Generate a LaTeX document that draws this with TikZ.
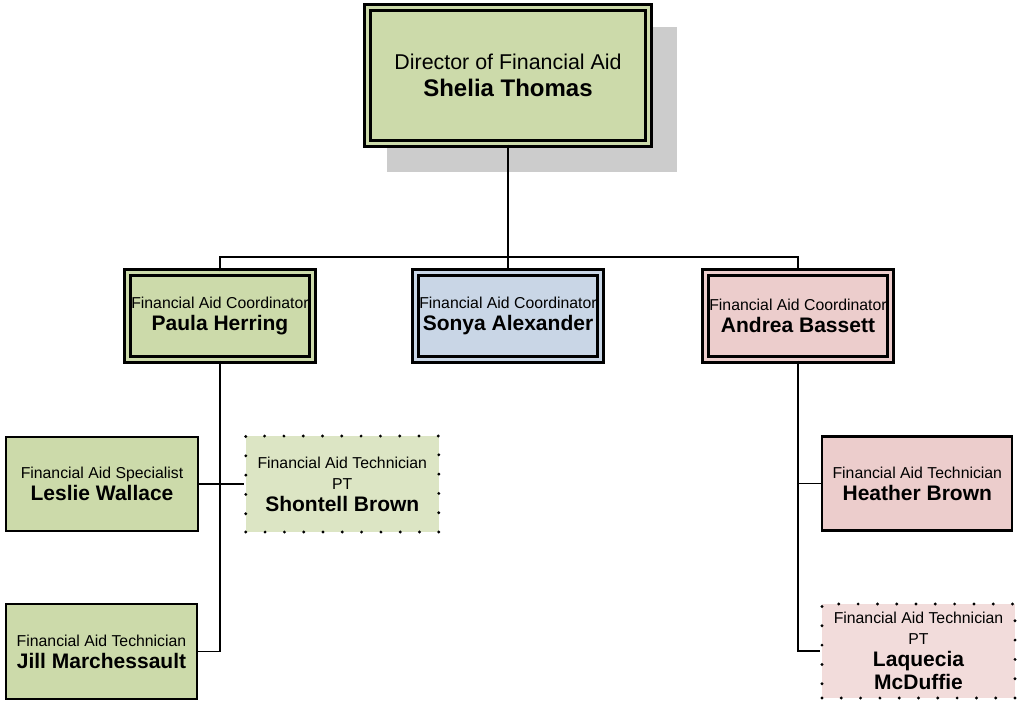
\documentclass[tikz,border=0pt]{standalone}
\usepackage{fontspec}
\setmainfont{Liberation Sans}
\definecolor{gfill}{HTML}{CCDAAA}
\definecolor{bfill}{HTML}{C9D6E6}
\definecolor{pfill}{HTML}{ECCDCC}
\definecolor{lgfill}{HTML}{DCE5C4}
\definecolor{lpfill}{HTML}{F2DCDB}
\definecolor{shadowgray}{HTML}{CCCCCC}
\newcommand\roletxt[1]{{\fontsize{15.8}{20}\selectfont #1}}
\newcommand\nametxt[1]{{\fontsize{21}{24}\selectfont\bfseries #1}}
\tikzset{
  conn/.style={draw=black, line width=1.9pt},
  dblbox/.style={draw=black, fill=#1, double=#1, line width=2.4pt, double distance=3.3pt,
    inner sep=0pt, align=center, text=black, font=\fontsize{16}{22}\selectfont},
  sglbox/.style={draw=black, fill=#1, line width=2.1pt, inner sep=0pt, align=center,
    text=black, font=\fontsize{16}{22}\selectfont},
  dotbox/.style={draw=black, fill=#1, line width=3.2pt, dash pattern=on 0pt off 19.3pt,
    line cap=round, inner sep=0pt, align=center, text=black, font=\fontsize{16}{21}\selectfont}
}
\begin{document}
\begin{tikzpicture}[x=1pt, y=-1pt]
\useasboundingbox (0,0) rectangle (1017,702);
% shadow of top box
\node[fill=shadowgray, minimum width=290pt, minimum height=145pt, inner sep=0pt] (dirshadow) at (532,99.5) {};
% top box
\node[dblbox=gfill, minimum width=281pt, minimum height=136pt, font=\fontsize{21.4}{27}\selectfont] (dir) at (508,75.5)
  {Director of Financial Aid\\{\fontsize{24}{27}\selectfont\bfseries Shelia Thomas}};
% coordinators
\node[dblbox=gfill, minimum width=185pt, minimum height=87pt] (paula) at (220,316)
  {\roletxt{Financial Aid Coordinator}\\\nametxt{Paula Herring}};
\node[dblbox=bfill, minimum width=185pt, minimum height=87pt] (sonya) at (508,316)
  {\roletxt{Financial Aid Coordinator}\\\nametxt{Sonya Alexander}};
\node[dblbox=pfill, minimum width=185pt, minimum height=87pt] (andrea) at (798,316)
  {\roletxt{Financial Aid Coordinator}\\\nametxt{Andrea Bassett}};
% staff
\node[sglbox=gfill, minimum width=192pt, minimum height=94pt] (leslie) at (102,484)
  {\roletxt{Financial Aid Specialist}\\\nametxt{Leslie Wallace}};
\node[dotbox=lgfill, minimum width=193pt, minimum height=96pt] (shontell) at (342.3,484)
  {\roletxt{Financial Aid Technician}\\\roletxt{PT}\\[1pt]\nametxt{Shontell Brown}};
\node[sglbox=gfill, minimum width=191pt, minimum height=95pt] (jill) at (101.5,651.5)
  {\roletxt{Financial Aid Technician}\\\nametxt{Jill Marchessault}};
\node[sglbox=pfill, minimum width=190pt, minimum height=94pt] (heather) at (917.3,483.5)
  {\roletxt{Financial Aid Technician}\\\nametxt{Heather Brown}};
\node[dotbox=lpfill, minimum width=193pt, minimum height=94pt] (laq) at (918.5,651)
  {\roletxt{Financial Aid Technician}\\\roletxt{PT}\\[1pt]\nametxt{Laquecia}\\[2pt]\nametxt{McDuffie}};
% connectors
\coordinate (bus) at (508,257);
\draw[conn] (dir.south) -- (bus);
\draw[conn] (paula.north) |- (bus) -| (andrea.north);
\draw[conn] (bus) -- (sonya.north);
\draw[conn] (paula.south) |- (jill.east);
\draw[conn] (leslie.east) -- (shontell.west);
\draw[conn] (andrea.south) |- (laq.west);
\draw[conn] (andrea.south |- heather.west) -- (heather.west);
\end{tikzpicture}
\end{document}
